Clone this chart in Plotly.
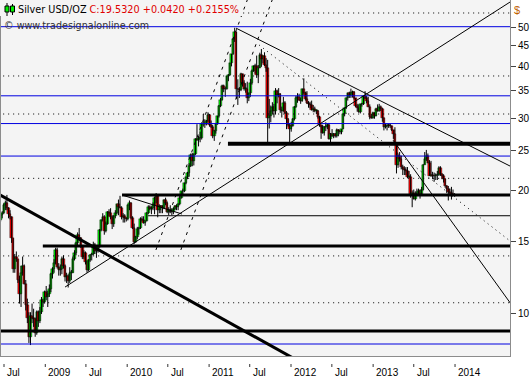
import pandas as pd
import plotly.graph_objects as go

# ---------------- weekly OHLC, Silver USD/OZ (week starting Monday) ----------------
week_start = "2008-06-16"

o08 = [16.9,17.4,17.6,18.4,18.6,18.1,17.5,17.2,15.3,12.9,13.8,13.6,12.1,11.2,12.6,13.1,11.8,10.5,9.8,8.8,9.9,9.8,9.7,9.0,10.1,9.6,10.1,10.8,10.7]
h08 = [17.6,17.8,18.6,18.9,19.5,18.2,17.9,17.3,15.3,14.0,14.2,13.6,12.4,13.1,13.8,13.2,12.1,10.9,10.1,10.1,10.6,10.3,9.8,10.2,10.2,10.4,11.0,10.9,11.4]
l08 = [16.8,17.1,17.5,17.9,17.9,17.1,17.0,14.9,12.6,12.6,13.4,11.9,10.6,10.4,12.4,11.8,10.2,9.5,8.5,8.4,9.5,9.3,8.8,8.9,9.3,9.5,10.0,10.4,10.6]
c08 = [17.4,17.6,18.4,18.6,18.1,17.5,17.2,15.3,12.9,13.8,13.6,12.1,11.2,12.6,13.1,11.8,10.5,9.8,8.8,9.9,9.8,9.7,9.0,10.1,9.6,10.1,10.8,10.7,11.3]

o09 = [11.3,11.0,11.2,11.5,12.5,12.9,13.3,14.3,13.0,12.8,12.9,13.6,13.1,12.3,12.4,12.0,12.6,12.6,13.6,14.1,14.9,15.6,15.3,14.6,13.8,14.1,13.4,12.8,13.5,13.9,14.0,14.7,14.2,14.2,14.6,16.0,16.9,17.2,15.9,16.6,17.7,17.6,17.2,16.6,17.3,17.6,18.5,18.2,18.1,17.2,17.3,17.1]
h09 = [11.7,11.4,11.8,12.6,13.0,13.6,14.5,14.5,13.3,13.2,13.8,13.9,13.2,12.6,12.5,13.0,12.8,13.8,14.3,15.0,15.8,16.2,15.4,14.7,14.3,14.2,13.5,13.6,14.0,14.1,15.0,14.9,14.3,14.7,16.1,17.0,17.6,17.4,16.8,17.8,18.0,18.1,17.4,17.4,17.9,18.5,19.0,19.4,18.3,17.6,17.5,17.2]
l09 = [10.8,10.4,11.0,11.3,12.2,12.6,13.2,12.9,12.4,12.4,12.5,12.9,12.0,11.9,11.6,11.9,12.1,12.6,13.5,13.9,14.6,15.1,14.5,13.6,13.6,13.2,12.6,12.7,13.4,13.5,13.9,14.0,13.7,14.1,14.5,15.9,16.8,15.6,15.8,16.5,17.3,17.0,16.1,16.3,17.1,17.5,17.4,18.1,17.0,16.7,16.7,16.8]
c09 = [11.0,11.2,11.5,12.5,12.9,13.3,14.3,13.0,12.8,12.9,13.6,13.1,12.3,12.4,12.0,12.6,12.6,13.6,14.1,14.9,15.6,15.3,14.6,13.8,14.1,13.4,12.8,13.5,13.9,14.0,14.7,14.2,14.2,14.6,16.0,16.9,17.2,15.9,16.6,17.7,17.6,17.2,16.6,17.3,17.6,18.5,18.2,18.1,17.2,17.3,17.1,17.0]

o10 = [17.0,18.4,18.6,17.1,16.2,15.0,15.4,16.1,16.2,17.0,16.9,16.7,16.8,17.6,18.2,18.0,18.1,18.4,19.2,19.4,17.9,18.3,18.3,18.1,18.9,18.6,17.7,17.9,17.8,17.7,18.0,18.3,18.2,18.5,19.2,19.9,19.9,20.8,21.6,22.0,22.9,24.4,23.6,24.5,26.7,26.5,26.8,26.9,29.1,29.1,29.0,29.5]
h10 = [18.5,18.9,18.7,17.3,16.6,15.5,16.3,16.3,17.2,17.3,17.3,16.9,17.7,18.4,18.4,18.3,18.7,19.3,19.7,19.5,18.5,18.4,18.4,19.0,19.2,18.8,18.2,18.4,18.1,18.2,18.4,18.5,18.6,19.4,19.9,20.2,20.9,21.6,22.2,23.3,24.6,24.7,24.6,26.8,29.0,27.2,27.8,29.3,30.7,29.8,29.7,31.0]
l10 = [16.9,17.9,17.0,16.1,14.8,14.9,15.2,15.6,16.1,16.8,16.6,16.4,16.8,17.5,17.9,17.5,17.9,17.5,18.6,17.2,17.6,17.6,17.6,18.0,18.4,17.6,17.4,17.6,17.4,17.5,17.9,17.9,17.9,18.4,19.1,19.6,19.8,20.7,21.3,21.6,22.8,22.9,23.0,24.4,26.4,25.6,26.2,26.6,28.6,28.4,28.8,29.4]
c10 = [18.4,18.6,17.1,16.2,15.0,15.4,16.1,16.2,17.0,16.9,16.7,16.8,17.6,18.2,18.0,18.1,18.4,19.2,19.4,17.9,18.3,18.3,18.1,18.9,18.6,17.7,17.9,17.8,17.7,18.0,18.3,18.2,18.5,19.2,19.9,19.9,20.8,21.6,22.0,22.9,24.4,23.6,24.5,26.7,26.5,26.8,26.9,29.1,29.1,29.0,29.5,30.6]

o11 = [30.6,28.8,28.5,27.2,27.9,29.1,30.4,32.2,33.2,35.9,35.4,35.3,37.9,38.2,40.8,42.9,46.7,48.6,35.4,35.3,35.2,38.4,36.5,35.4,35.4,33.5,34.5,36.5,39.0,40.2,40.1,38.3,39.8,42.8,41.8,42.4,40.3,39.8,30.1,30.4,31.2,32.0,31.2,35.0,34.2,34.3,31.4,31.3,32.7,30.9,29.8,28.9]
h11 = [30.7,29.6,28.9,28.1,29.2,30.4,32.3,33.6,36.2,36.2,35.8,38.0,38.4,40.9,43.0,46.9,49.8,48.7,37.3,35.7,38.7,38.5,37.1,36.5,36.8,34.6,37.4,39.4,40.3,40.7,42.6,40.4,43.3,44.2,42.6,43.4,42.0,41.6,33.4,32.2,32.8,32.5,35.5,35.2,35.5,34.5,32.0,33.8,33.0,31.2,30.0,29.1]
l11 = [28.6,28.4,26.8,26.4,27.5,28.9,30.1,31.9,33.1,34.7,33.8,35.2,36.9,38.1,40.1,42.8,46.0,33.4,32.3,33.6,34.9,35.8,35.0,34.6,32.6,33.0,33.8,36.2,38.9,38.5,37.6,36.5,39.7,40.0,40.8,40.2,38.9,26.1,28.3,29.3,30.6,30.1,30.6,32.6,33.7,30.9,30.1,31.1,30.7,28.2,28.6,26.2]
c11 = [28.8,28.5,27.2,27.9,29.1,30.4,32.2,33.2,35.9,35.4,35.3,37.9,38.2,40.8,42.9,46.7,48.6,35.4,35.3,35.2,38.4,36.5,35.4,35.4,33.5,34.5,36.5,39.0,40.2,40.1,38.3,39.8,42.8,41.8,42.4,40.3,39.8,30.1,30.4,31.2,32.0,31.2,35.0,34.2,34.3,31.4,31.3,32.7,30.9,29.8,28.9,28.2]

o12 = [28.2,28.7,29.9,32.0,33.5,33.7,33.3,33.0,35.3,34.6,33.4,32.7,32.5,32.3,31.4,31.5,31.3,31.3,30.2,28.8,28.6,27.6,28.5,28.5,28.8,26.7,27.5,27.2,27.4,27.2,28.0,27.9,27.8,28.2,30.7,31.7,33.5,34.5,34.2,34.6,34.8,33.5,32.2,31.7,31.0,32.4,32.4,33.9,33.6,33.1,31.9,30.2,30.1]
h12 = [29.4,30.0,32.1,34.0,34.5,34.4,33.7,35.4,37.5,34.8,34.9,33.0,32.9,33.1,32.3,32.0,31.5,31.4,30.4,28.9,28.9,28.7,29.3,29.1,29.2,27.6,28.2,27.6,27.6,28.3,28.2,28.0,28.2,30.8,31.8,33.7,34.6,34.8,35.4,35.0,34.9,33.6,32.5,32.4,32.5,32.7,34.0,34.9,34.0,33.8,32.4,30.7,31.1]
l12 = [27.8,28.6,29.6,31.8,32.7,33.1,32.5,32.9,34.2,33.1,32.5,31.8,31.7,31.3,31.0,31.0,30.7,29.9,28.6,26.7,27.5,27.2,27.9,28.2,26.6,26.1,27.0,26.8,26.9,26.9,27.1,27.4,27.4,28.2,30.3,31.6,33.1,33.6,33.6,33.7,33.3,31.9,31.1,30.9,30.8,32.0,32.3,33.4,32.6,31.9,29.8,29.9,29.9]
c12 = [28.7,29.9,32.0,33.5,33.7,33.3,33.0,35.3,34.6,33.4,32.7,32.5,32.3,31.4,31.5,31.3,31.3,30.2,28.8,28.6,27.6,28.5,28.5,28.8,26.7,27.5,27.2,27.4,27.2,28.0,27.9,27.8,28.2,30.7,31.7,33.5,34.5,34.2,34.6,34.8,33.5,32.2,31.7,31.0,32.4,32.4,33.9,33.6,33.1,31.9,30.2,30.1,30.9]

o13 = [30.9,30.4,31.5,31.3,31.9,31.6,30.0,28.6,28.7,28.7,28.9,28.7,28.1,27.4,26.0,23.0,24.2,23.9,22.8,22.5,22.4,22.3,21.6,21.6,19.6,19.7,19.1,19.6,19.7,19.9,19.6,20.1,23.1,23.9,24.3,23.3,21.7,21.8,21.7,21.7,21.8,21.8,22.7,21.9,21.7,21.3,20.5,20.2,19.8,19.7,19.6,19.5]
h13 = [31.0,31.8,32.4,32.5,32.2,31.8,30.1,29.1,29.1,29.1,29.1,28.8,28.1,28.5,26.1,24.6,24.8,24.2,23.1,22.9,22.8,22.8,22.3,21.9,20.0,20.1,19.9,20.2,20.2,20.1,20.4,23.2,24.8,25.1,24.6,23.7,23.6,22.2,22.1,22.0,22.3,22.9,22.9,22.0,21.9,21.4,20.6,20.5,20.2,20.4,20.1,19.7]
l13 = [29.9,30.3,31.1,31.1,31.2,29.4,28.0,28.3,28.0,28.4,28.4,27.9,26.7,25.8,22.0,22.7,23.5,22.5,21.8,21.8,21.8,21.4,21.4,19.2,18.2,19.0,18.9,19.4,19.6,19.1,19.4,20.0,23.1,23.6,23.3,21.7,21.6,21.3,21.0,21.2,21.2,21.7,21.7,21.3,20.9,20.3,19.7,18.9,19.5,19.0,19.4,19.3]
c13 = [30.4,31.5,31.3,31.9,31.6,30.0,28.6,28.7,28.7,28.9,28.7,28.1,27.4,26.0,23.0,24.2,23.9,22.8,22.5,22.4,22.3,21.6,21.6,19.6,19.7,19.1,19.6,19.7,19.9,19.6,20.1,23.1,23.9,24.3,23.3,21.7,21.8,21.7,21.7,21.8,21.8,22.7,21.9,21.7,21.3,20.5,20.2,19.8,19.7,19.6,19.5,19.53]

# ---------------- drawn levels and trend lines (price, start date) ----------------
blue_levels = [50.1, 34.0, 29.1, 24.25, 8.45]
dotted_levels = [54.1, 38.0, 30.7, 21.4, 13.85, 10.65]
support_levels = [26.0, 19.5, 14.65, 9.09, 17.35]
support_starts = ["2011-03-26", "2009-12-09", "2008-12-21", "2008-01-01", "2010-04-04"]

trend_thick = [("2008-06-13", 19.5), ("2012-01-10", 7.81)]
trend_up = [("2009-03-30", 11.63), ("2014-12-01", 61.8)]
trend_down_peak = [("2011-05-01", 49.7), ("2014-12-01", 21.67)]
trend_down_2013 = [("2013-03-31", 26.5), ("2014-12-01", 9.12)]
trend_down_2009 = [("2009-12-09", 19.49), ("2010-09-02", 17.52)]
dotted_down = [("2011-08-12", 45.2), ("2014-09-03", 15.06)]
channel_a = [("2010-05-09", 14.32), ("2011-06-28", 59.8)]
channel_b = [("2010-08-28", 14.32), ("2011-10-17", 59.8)]

ytick_vals = [10, 15, 20, 25, 30, 35, 40, 45, 50]
xtick_dates = ["2008-07-01", "2009-01-01", "2009-07-01", "2010-01-01", "2010-07-01", "2011-01-01",
               "2011-07-01", "2012-01-01", "2012-07-01", "2013-01-01", "2013-07-01", "2014-01-01"]
xtick_labels = ["Jul", "2009", "Jul", "2010", "Jul", "2011", "Jul", "2012", "Jul", "2013", "Jul", "2014"]

# ---------------- build ----------------
opens = o08 + o09 + o10 + o11 + o12 + o13
highs = h08 + h09 + h10 + h11 + h12 + h13
lows = l08 + l09 + l10 + l11 + l12 + l13
closes = c08 + c09 + c10 + c11 + c12 + c13
dates = pd.date_range(week_start, periods=len(closes), freq="7D")

GREEN = "#00ee00"
RED = "#f40000"
BLUE = "#0000e0"
FONT = "DejaVu Sans"
AXFONT = "Liberation Sans"

fig = go.Figure()

# wicks
wx, wy = [], []
for d, lo, hi in zip(dates, lows, highs):
    wx += [d, d, None]
    wy += [lo, hi, None]
fig.add_trace(go.Scatter(x=wx, y=wy, mode="lines", line=dict(color="black", width=1),
                         hoverinfo="skip"))

# bodies
base = [min(o, c) for o, c in zip(opens, closes)]
size = [max(abs(c - o), 0.03) for o, c in zip(opens, closes)]
cols = [GREEN if c >= o else RED for o, c in zip(opens, closes)]
fig.add_trace(go.Bar(x=dates, y=size, base=base, width=11 * 86400000,
                     marker=dict(color=cols, line=dict(color="black", width=0.4)),
                     hoverinfo="skip"))

X_START, X_END = "2008-01-01", "2014-12-31"

def hline(price, start, color, width, dash="solid"):
    fig.add_trace(go.Scatter(x=[start, X_END], y=[price, price], mode="lines",
                             line=dict(color=color, width=width, dash=dash), hoverinfo="skip"))

def seg(pts, color, width, dash="solid"):
    fig.add_trace(go.Scatter(x=[p[0] for p in pts], y=[p[1] for p in pts], mode="lines",
                             line=dict(color=color, width=width, dash=dash), hoverinfo="skip"))

for p in dotted_levels:
    hline(p, X_START, "black", 1, "1px,4px")
for p in blue_levels:
    hline(p, X_START, BLUE, 1)
sup_w = [4, 3, 3, 3, 1]
for p, s, w in zip(support_levels, support_starts, sup_w):
    hline(p, s, "black", w)

seg(trend_thick, "black", 3)
seg(trend_up, "black", 1)
seg(trend_down_peak, "black", 1)
seg(trend_down_2013, "black", 1)
seg(trend_down_2009, "black", 1)
seg(dotted_down, "black", 1, "1px,4px")
seg(channel_a, "black", 1, "3px,5px")
seg(channel_b, "black", 1, "3px,5px")

# ---------------- header, ticks, labels ----------------
PW, PH = 509.0, 356.0
def px(x):
    return (x - 1) / PW
def py(y):
    return (PH - y) / PH

shapes = []
shapes.append(dict(type="rect", xref="paper", yref="paper", x0=px(0), x1=px(243), y0=py(16), y1=py(0),
                   fillcolor="#f4f4f4", line=dict(width=0), layer="above"))
# little candle icon
shapes.append(dict(type="line", xref="paper", yref="paper", x0=px(7), x1=px(7), y0=py(3), y1=py(16),
                   line=dict(color="black", width=1), layer="above"))
shapes.append(dict(type="rect", xref="paper", yref="paper", x0=px(5), x1=px(9), y0=py(12), y1=py(6),
                   fillcolor=GREEN, line=dict(color="black", width=1), layer="above"))
shapes.append(dict(type="line", xref="paper", yref="paper", x0=px(12.5), x1=px(12.5), y0=py(4), y1=py(15),
                   line=dict(color="black", width=1), layer="above"))
shapes.append(dict(type="rect", xref="paper", yref="paper", x0=px(10.5), x1=px(14.5), y0=py(12), y1=py(6),
                   fillcolor=GREEN, line=dict(color="black", width=1), layer="above"))
# x tick marks
for d in xtick_dates:
    shapes.append(dict(type="line", xref="x", yref="paper", x0=d, x1=d, y0=-8 / PH, y1=-11 / PH,
                       line=dict(color="#333333", width=1)))

annotations = []
annotations.append(dict(xref="paper", yref="paper", x=px(16), y=py(9.5), xanchor="left", yanchor="middle",
                        text="Silver USD/OZ <span style='color:#e00000'>C:19.5320 +0.0420 +0.2155%</span>",
                        showarrow=False, font=dict(family=FONT, size=9.7, color="black")))
annotations.append(dict(xref="paper", yref="paper", x=px(2), y=py(26), xanchor="left", yanchor="middle",
                        text="© www.tradesignalonline.com", showarrow=False,
                        font=dict(family=FONT, size=9.6, color="#333333")))
annotations.append(dict(xref="paper", yref="paper", x=px(512), y=py(10), xanchor="left", yanchor="middle",
                        text="$", showarrow=False, font=dict(family=AXFONT, size=11, color="#c06000")))
for d, t in zip(xtick_dates, xtick_labels):
    annotations.append(dict(xref="x", yref="paper", x=d, y=0, xanchor="left", yanchor="top",
                            xshift=1, yshift=-9, text=t, showarrow=False,
                            font=dict(family=AXFONT, size=10, color="black")))

fig.update_layout(
    template="none",
    width=530, height=380,
    margin=dict(l=1, r=20, t=0, b=24, pad=0),
    paper_bgcolor="white", plot_bgcolor="#f4f4f4",
    showlegend=False, barmode="overlay", bargap=0,
    shapes=shapes, annotations=annotations,
    xaxis=dict(type="date", range=["2008-06-17 15:00", "2014-09-02 21:36"], showgrid=False,
               zeroline=False, showticklabels=False, ticks="", showline=True,
               linecolor="#8c8c8c", linewidth=1, mirror=False),
    yaxis=dict(type="log", side="right", range=[0.89763, 1.76485], tickvals=ytick_vals,
               ticktext=[str(v) for v in ytick_vals], ticks="outside", ticklen=5,
               tickcolor="#444444", tickfont=dict(family=AXFONT, size=10, color="black"),
               showgrid=False, zeroline=False, showline=True, mirror=True,
               linecolor="#8c8c8c", linewidth=1),
)

fig.write_html("out.html", config={"displayModeBar": False},
               post_script="document.body.style.margin='0';document.body.style.padding='0';")
